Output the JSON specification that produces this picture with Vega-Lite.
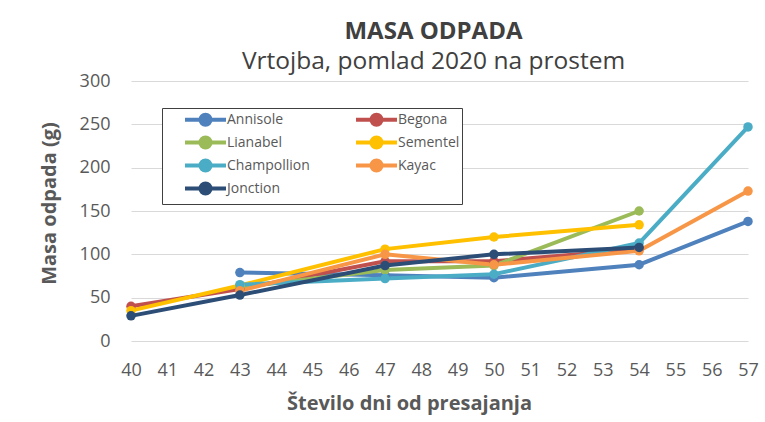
{
  "$schema": "https://vega.github.io/schema/vega-lite/v6.json",
  "width": 617,
  "height": 260,
  "autosize": {"type": "none"},
  "padding": {"left": 131, "top": 81, "right": 17, "bottom": 81},
  "background": "white",
  "config": {"view": {"stroke": null}, "font": "Open Sans"},
  "title": {
    "text": "MASA ODPADA",
    "subtitle": "Vrtojba, pomlad 2020 na prostem",
    "anchor": "middle",
    "dx": -6,
    "fontSize": 24,
    "fontWeight": "bold",
    "color": "#404040",
    "subtitleFontSize": 24.5,
    "subtitleColor": "#404040",
    "subtitlePadding": 6,
    "offset": -1,
    "font": "Open Sans",
    "subtitleFont": "Open Sans"
  },
  "data": {
    "values": [
      {"dan": 43, "sorta": "Annisole", "masa": 79},
      {"dan": 47, "sorta": "Annisole", "masa": 76},
      {"dan": 50, "sorta": "Annisole", "masa": 73},
      {"dan": 54, "sorta": "Annisole", "masa": 88},
      {"dan": 57, "sorta": "Annisole", "masa": 138},
      {"dan": 40, "sorta": "Begona", "masa": 40},
      {"dan": 43, "sorta": "Begona", "masa": 60},
      {"dan": 47, "sorta": "Begona", "masa": 92},
      {"dan": 50, "sorta": "Begona", "masa": 92},
      {"dan": 54, "sorta": "Begona", "masa": 106},
      {"dan": 43, "sorta": "Lianabel", "masa": 62},
      {"dan": 47, "sorta": "Lianabel", "masa": 82},
      {"dan": 50, "sorta": "Lianabel", "masa": 87},
      {"dan": 54, "sorta": "Lianabel", "masa": 150},
      {"dan": 40, "sorta": "Sementel", "masa": 35},
      {"dan": 43, "sorta": "Sementel", "masa": 64},
      {"dan": 47, "sorta": "Sementel", "masa": 106},
      {"dan": 50, "sorta": "Sementel", "masa": 120},
      {"dan": 54, "sorta": "Sementel", "masa": 134},
      {"dan": 43, "sorta": "Champollion", "masa": 65},
      {"dan": 47, "sorta": "Champollion", "masa": 72},
      {"dan": 50, "sorta": "Champollion", "masa": 77},
      {"dan": 54, "sorta": "Champollion", "masa": 113},
      {"dan": 57, "sorta": "Champollion", "masa": 247},
      {"dan": 43, "sorta": "Kayac", "masa": 58},
      {"dan": 47, "sorta": "Kayac", "masa": 100},
      {"dan": 50, "sorta": "Kayac", "masa": 88},
      {"dan": 54, "sorta": "Kayac", "masa": 104},
      {"dan": 57, "sorta": "Kayac", "masa": 173},
      {"dan": 40, "sorta": "Jonction", "masa": 29},
      {"dan": 43, "sorta": "Jonction", "masa": 53},
      {"dan": 47, "sorta": "Jonction", "masa": 87},
      {"dan": 50, "sorta": "Jonction", "masa": 100},
      {"dan": 54, "sorta": "Jonction", "masa": 108}
    ]
  },
  "encoding": {
    "x": {
      "field": "dan",
      "type": "quantitative",
      "scale": {"domain": [40, 57], "nice": false, "zero": false},
      "axis": {
        "title": "Število dni od presajanja",
        "values": [40,41,42,43,44,45,46,47,48,49,50,51,52,53,54,55,56,57],
        "grid": false,
        "domain": false,
        "ticks": false,
        "labelFontSize": 18,
        "labelColor": "#595959",
        "labelPadding": 20,
        "labelFlush": false,
        "titleFontSize": 20,
        "titleFontWeight": "bold",
        "titleColor": "#595959",
        "titlePadding": 14,
        "titleX": 278
      }
    },
    "y": {
      "field": "masa",
      "type": "quantitative",
      "scale": {"domain": [0, 300], "nice": false},
      "axis": {
        "title": "Masa odpada (g)",
        "values": [0, 50, 100, 150, 200, 250, 300],
        "gridColor": "#d9d9d9",
        "gridWidth": 1,
        "domain": false,
        "ticks": false,
        "labelFontSize": 18,
        "labelColor": "#595959",
        "labelPadding": 21,
        "titleFontSize": 20,
        "titleFontWeight": "bold",
        "titleColor": "#595959",
        "titlePadding": 20,
        "titleY": 122
      }
    },
    "color": {
      "field": "sorta",
      "type": "nominal",
      "scale": {
        "domain": ["Annisole", "Begona", "Lianabel", "Sementel", "Champollion", "Kayac", "Jonction"],
        "range": ["#4F81BD", "#C0504D", "#9BBB59", "#FFC000", "#4BACC6", "#F79646", "#2C4D75"]
      },
      "legend": {
        "title": null,
        "orient": "none",
        "legendX": 31,
        "legendY": 27,
        "values": ["Annisole", "Lianabel", "Champollion", "Jonction", "Begona", "Sementel", "Kayac"],
        "columns": 2,
        "columnPadding": 25,
        "rowPadding": -12,
        "padding": 2,
        "strokeColor": "#404040",
        "fillColor": "white",
        "labelFontSize": 14,
        "labelColor": "#595959",
        "labelLimit": 200,
        "labelOffset": 12,
        "labelExpr": "datum.label == 'Sementel' ? datum.label + '\u00a0\u00a0\u00a0\u00a0\u00a0\u00a0\u00a0\u00a0\u00a0' : datum.label",
        "symbolType": "M -2.73 0 L 2.73 0 M 0.67 0 A 0.67 0.67 0 1 1 -0.67 0 A 0.67 0.67 0 1 1 0.67 0",
        "symbolSize": 225,
        "symbolStrokeWidth": 4,
        "symbolOffset": 32
      }
    }
  },
  "layer": [
    {"mark": {"type": "line", "strokeWidth": 4}, "encoding": {"detail": {"field": "sorta"}}},
    {"mark": {"type": "point", "filled": true, "size": 90, "opacity": 1}}
  ]
}
